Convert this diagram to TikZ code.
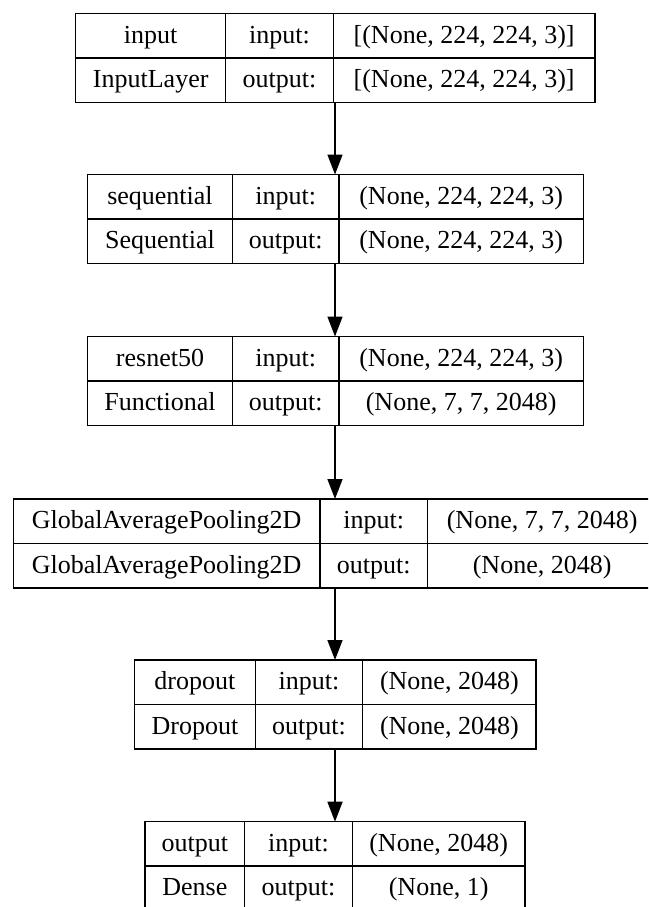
\documentclass[tikz,border=0pt]{standalone}
\usepackage{fontspec}
\setmainfont{Liberation Serif}
\usetikzlibrary{arrows.meta,fit}
\tikzset{
  frame/.style={draw=black, line width=1.5pt, inner sep=0pt, outer sep=0pt, rectangle},
  rule/.style={draw=black, line width=1.5pt},
  lbl/.style={anchor=base, inner sep=0pt, font=\fontsize{26}{30}\selectfont},
  flow/.style={draw=black, line width=1.5pt, -{Triangle[length=20pt,width=15pt]}}
}
% geometry: left, col1, col2, right, top
\newcommand\kgeom[5]{\def\kL{#1}\def\kA{#2}\def\kB{#3}\def\kR{#4}\def\kT{#5}}
\newcommand\kbox[7]{%
  \node[frame, fit={(\kL,\kT) (\kR,\kT+89)}] (#1) {};
  \draw[rule] (\kL,\kT+44.5) -- (\kR,\kT+44.5);
  \draw[rule] (\kA,\kT) -- (\kA,\kT+89);
  \draw[rule] (\kB,\kT) -- (\kB,\kT+89);
  \node[lbl] (#1-a) at ({(\kL+\kA)/2},\kT+29.75) {#2};
  \node[lbl] (#1-b) at ({(\kA+\kB)/2},\kT+29.75) {#3};
  \node[lbl] (#1-c) at ({(\kB+\kR)/2},\kT+29.75) {#4};
  \node[lbl] (#1-d) at ({(\kL+\kA)/2},\kT+74.25) {#5};
  \node[lbl] (#1-e) at ({(\kA+\kB)/2},\kT+74.25) {#6};
  \node[lbl] (#1-f) at ({(\kB+\kR)/2},\kT+74.25) {#7};
}
\begin{document}
\begin{tikzpicture}[x=1pt,y=-1pt]
  \useasboundingbox (0,0) rectangle (648,907);
  \fill[white] (0,0) rectangle (648,907);
  \clip (0,0) rectangle (648,907);
  \coordinate (ax) at (335,0);

  \kgeom{75.7}{225.7}{333.3}{595}{13.3}
  \kbox{b1}{input}{input:}{[(None, 224, 224, 3)]}{InputLayer}{output:}{[(None, 224, 224, 3)]}

  \kgeom{87.7}{232.3}{339}{583.3}{174.5}
  \kbox{b2}{sequential}{input:}{(None, 224, 224, 3)}{Sequential}{output:}{(None, 224, 224, 3)}

  \kgeom{87.7}{232.3}{339}{583.3}{336.5}
  \kbox{b3}{resnet50}{input:}{(None, 224, 224, 3)}{Functional}{output:}{(None, 7, 7, 2048)}

  \kgeom{13.3}{320}{427.3}{657}{499}
  \kbox{b4}{GlobalAveragePooling2D}{input:}{(None, 7, 7, 2048)}{GlobalAveragePooling2D}{output:}{(None, 2048)}

  \kgeom{134.5}{255.3}{362.7}{536}{660}
  \kbox{b5}{dropout}{input:}{(None, 2048)}{Dropout}{output:}{(None, 2048)}

  \kgeom{145}{244.7}{352.3}{525}{821.7}
  \kbox{b6}{output}{input:}{(None, 2048)}{Dense}{output:}{(None, 1)}

  \draw[flow] (b1.south -| ax) -- (b2.north -| ax);
  \draw[flow] (b2.south -| ax) -- (b3.north -| ax);
  \draw[flow] (b3.south -| ax) -- (b4.north -| ax);
  \draw[flow] (b4.south -| ax) -- (b5.north -| ax);
  \draw[flow] (b5.south -| ax) -- (b6.north -| ax);
\end{tikzpicture}
\end{document}
